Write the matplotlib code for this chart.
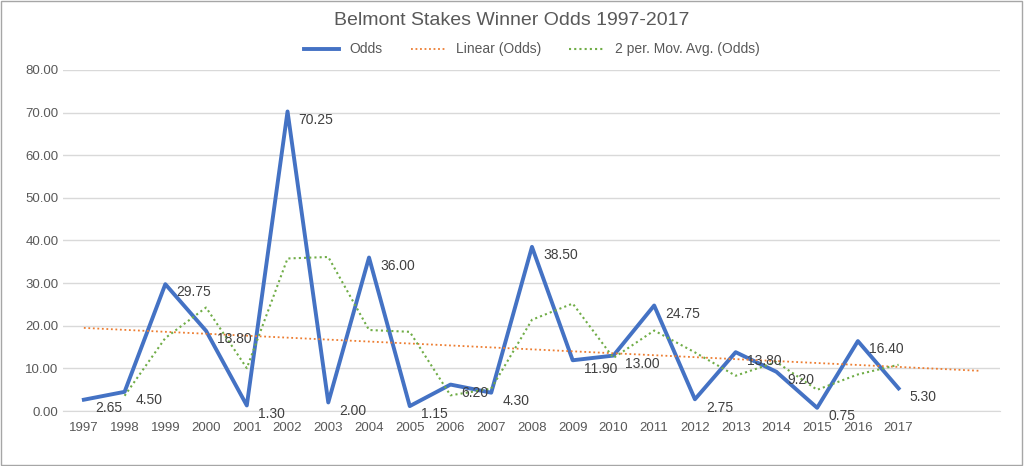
import matplotlib
matplotlib.use("Agg")
import matplotlib.pyplot as plt
import numpy as np

years = [str(y) for y in range(1997, 2018)]
odds = [2.65, 4.50, 29.75, 18.80, 1.30, 70.25, 2.00, 36.00, 1.15, 6.20, 4.30,
        38.50, 11.90, 13.00, 24.75, 2.75, 13.80, 9.20, 0.75, 16.40, 5.30]
forecast = 2

plt.rcParams['font.family'] = ['Liberation Sans', 'DejaVu Sans']
fig = plt.figure(figsize=(10.24, 4.66), dpi=100)
ax = fig.add_axes([0.062, 0.118, 0.915, 0.732])
x = np.arange(len(odds))
ax.plot(x, odds, color='#4472C4', lw=2.8, label='Odds')
m, b = np.polyfit(x, odds, 1)
xt = np.array([0, len(odds) - 1 + forecast])
ax.plot(xt, m * xt + b, color='#ED7D31', lw=1.3, ls=(0, (1, 1.5)), label='Linear (Odds)')
ma = [(odds[i] + odds[i - 1]) / 2 for i in range(1, len(odds))]
ax.plot(x[1:], ma, color='#70AD47', lw=1.5, ls=(0, (1, 1.5)), label='2 per. Mov. Avg. (Odds)')
for xi, v in zip(x, odds):
    ax.annotate(f"{v:.2f}", (xi, v), xytext=(8, -6), textcoords='offset points',
                fontsize=10, color='#404040', va='center')
ax.set_xlim(-0.5, len(odds) - 0.5 + forecast)
ax.set_ylim(0, 80)
ax.set_yticks(np.arange(0, 81, 10))
ax.set_yticklabels([f"{t:.2f}" for t in np.arange(0, 81, 10)])
ax.set_xticks(x)
ax.set_xticklabels(years)
ax.tick_params(length=0, labelsize=9.5, colors='#595959')
ax.tick_params(axis='x', pad=8)
ax.grid(axis='y', color='#D9D9D9', lw=1)
ax.set_axisbelow(True)
for s in ['top', 'right', 'left']:
    ax.spines[s].set_visible(False)
ax.spines['bottom'].set_color('#D9D9D9')
fig.suptitle('Belmont Stakes Winner Odds 1997-2017', y=0.975, fontsize=14, color='#595959')
ax.legend(loc='center', bbox_to_anchor=(0.5, 1.06), ncol=3, frameon=False,
          fontsize=10, labelcolor='#595959', handlelength=2.5, columnspacing=2)
fig.patches.append(plt.Rectangle((0.001, 0.002), 0.997, 0.995, transform=fig.transFigure,
                                 fill=False, edgecolor='#A6A6A6', lw=1))
fig.savefig('out.png')
